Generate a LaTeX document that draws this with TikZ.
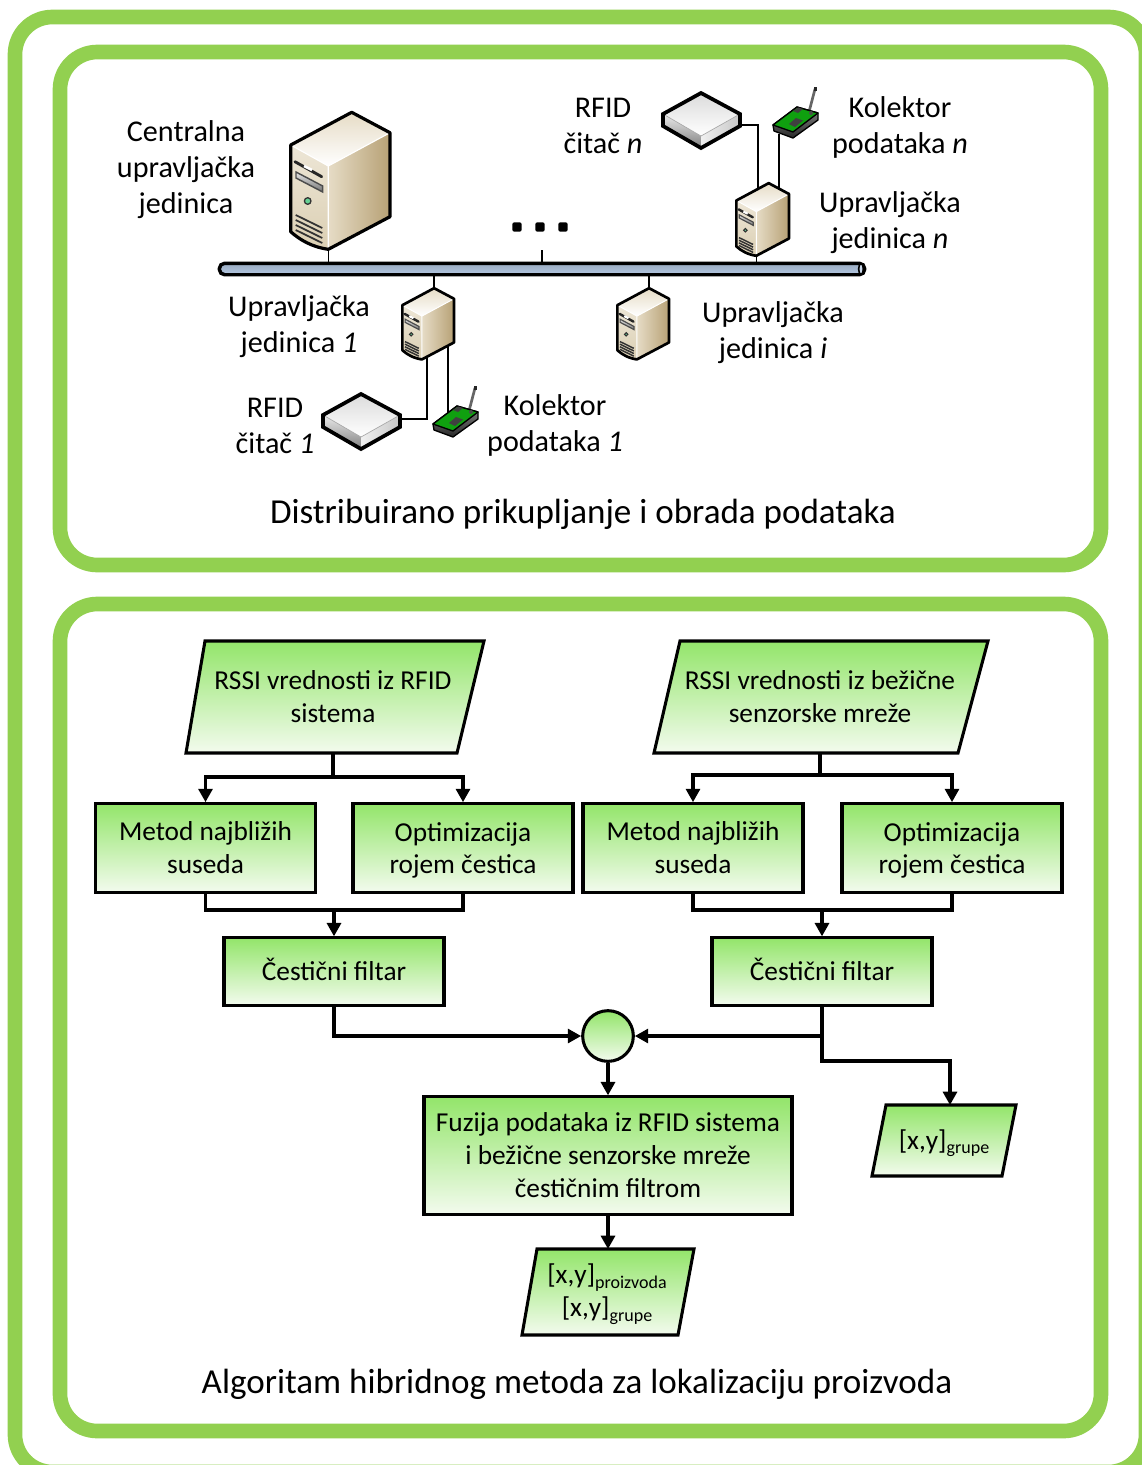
\documentclass[tikz,border=0pt]{standalone}
\usepackage{fontspec}
\setmainfont{Carlito}
\usetikzlibrary{arrows.meta,calc,shapes.geometric}
\definecolor{frameg}{HTML}{92D050}
\definecolor{flowtop}{HTML}{93E56A}
\definecolor{flowbot}{HTML}{F3FBEE}
\definecolor{busblue}{HTML}{B4C8E2}
\definecolor{creamA}{HTML}{F6F2E7}
\definecolor{creamB}{HTML}{DBCFB3}
\definecolor{creamC}{HTML}{E6DCC6}
\definecolor{creamM}{HTML}{EDE6D6}
\definecolor{creamD}{HTML}{B7A175}
\definecolor{boardg}{HTML}{0FA00F}
\newcommand{\flowfont}{\fontsize{20.5}{24.7}\selectfont}
\newcommand{\labfont}{\fontsize{22.6}{27}\selectfont}
\newcommand{\capfont}{\fontsize{26.3}{30}\selectfont}
\newcommand{\subt}[1]{\raisebox{-3.5pt}{\fontsize{13.5}{14}\selectfont #1}}
\tikzset{
 x=0.75pt,y=-0.75pt,
 frameline/.style={draw=frameg,line width=11pt,rounded corners=28pt},
 flowbox/.style={draw=black,line width=2.3pt,top color=flowtop,bottom color=flowbot,inner sep=0pt,align=center,font=\flowfont},
 flowpara/.style={draw=black,line width=2.3pt,line join=miter,top color=flowtop,bottom color=flowbot},
 paratext/.style={inner sep=0pt,align=center,font=\flowfont},
 flowline/.style={draw=black,line width=2.3pt},
 flowarrow/.style={flowline,-{Triangle[length=10pt,width=10.5pt]}},
 netline/.style={draw=black,line width=1.2pt},
 lab/.style={inner sep=0pt,align=center,font=\labfont},
 captext/.style={inner sep=0pt,align=center,font=\capfont},
 netdot/.style={fill=black,rounded corners=1.5pt,minimum size=7pt,inner sep=0pt},
 pics/server/.style={code={
  \path[left color=creamC,middle color=creamM,right color=creamD] (38.3,54)--(100,20.7)--(100,104.7)--(38.3,137.3)--cycle;
  \path[top color=creamM,bottom color=creamB] (0.7,33)--(38.3,54)--(38.3,137.3) .. controls (22,135) and (10,128) .. (0.7,119.7)--cycle;
  \path[top color=creamC,bottom color=white] (0.7,33)--(61.7,0.3)--(100,20.7)--(38.3,54)--cycle;
  \draw[white,line width=#1*0.35] (38.3,54)--(38.3,137.3) (0.7,33)--(38.3,54)--(100,20.7);
  \draw[black!85,line width=#1*0.9,line cap=round] (5,49.7)--(31.7,64.7);
  \draw[white,line width=#1*0.8] (14,54)--(22,58);
  \path[top color=black!10,bottom color=black!55,draw=black!70,line width=#1*0.45] (6,60)--(32.7,74)--(32.7,80)--(6,66)--cycle;
  \draw[black!80,fill=green!40!teal!60,line width=#1*0.4] (17.7,89) circle[radius=3.3];
  \foreach \vy in {0,5,10,15}{\draw[black!80,line width=#1*0.55] (5.7,103+\vy)--(32.3,116+\vy);}
  \draw[black,line width=#1,line join=round] (0.7,33)--(61.7,0.3)--(100,20.7)--(100,104.7)--(38.3,137.3) .. controls (22,135) and (10,128) .. (0.7,119.7)--cycle;
  \coordinate (-b) at (38.3,137.3);
  \coordinate (-ta) at (41.5,11);
  \coordinate (-tb) at (81,10.5);
  \coordinate (-tc) at (61.7,0.3);
  \coordinate (-ba) at (48,132);
  \coordinate (-bb) at (88.5,110.8);
 }},
 pics/reader/.style={code={
  \path[top color=black!8,bottom color=black!50] (0,21)--(38,43)--(38,55)--(0,33)--cycle;
  \path[left color=black!6,right color=black!22] (38,43)--(77,21)--(77,33)--(38,55)--cycle;
  \path[top color=black!14,bottom color=white] (0,21)--(38,0)--(77,21)--(38,43)--cycle;
  \draw[black!35,line width=.5pt] (0,21)--(38,43)--(77,21);
  \draw[black,line width=2.8pt,line join=miter] (0,21)--(38,0)--(77,21)--(77,33)--(38,55)--(0,33)--cycle;
  \coordinate (-r) at (77,25);
  \coordinate (-q) at (77,32);
 }},
 pics/collector/.style={code={
  \draw[black!60,line width=2pt] (36,25)--(42,2);
  \fill[black!85] (40.6,0) rectangle (43.6,4);
  \path[top color=black!45,bottom color=black!85,draw=black,line width=1pt,line join=round] (0,38)--(24,20)--(45,26)--(45,33)--(20,51)--(1,44)--cycle;
  \path[fill=boardg,draw=black,line width=1pt,line join=round] (0,38)--(24,20)--(45,26)--(20,45)--cycle;
  \fill[black!75] (20,24)--(25,20.5)--(30,22)--(25,26)--cycle;
  \fill[black!75] (16,37)--(23,31)--(30,33.5)--(22,40)--cycle;
  \fill[black!70] (38,26) circle[radius=2];
  \coordinate (-t) at (15,27);
  \coordinate (-b) at (6,47);
 }}
}
\begin{document}
\begin{tikzpicture}
\clip (0,0) rectangle (1142,1465);
\fill[white] (0,0) rectangle (1142,1465);
% frames
\draw[frameline] (15,17) rectangle (1146,1472);
\draw[frameline] (60,52) rectangle (1101,565);
\draw[frameline] (60,604) rectangle (1101,1431);
% bus
\node[draw=black,line width=2.6pt,rounded corners=4pt,top color=busblue!85!black,bottom color=busblue,minimum width=484pt,minimum height=8.6pt,inner sep=0pt] (bus) at (542,269) {};
\node[draw=black,line width=1.2pt,fill=busblue!70!white,ellipse,minimum width=3.5pt,minimum height=8.4pt,inner sep=0pt] (busend) at (861,269) {};
% devices
\pic (big) at (290,112) {server=2.4pt};
\pic[scale=0.53] (sn) at (736,183) {server=2pt};
\pic[scale=0.52] (s1) at (402,288) {server=2pt};
\pic[scale=0.52] (si) at (617,288) {server=2pt};
\pic (rn) at (663,93) {reader};
\pic (r1) at (323,394) {reader};
\pic (cn) at (773,87) {collector};
\pic (c1) at (433,386) {collector};
\coordinate (tick) at (542,250);
% network connectors
\draw[netline] (big-b) -- (big-b |- bus.north);
\draw[netline] (tick) -- (tick |- bus.north);
\draw[netline] (sn-b) -- (sn-b |- bus.north);
\draw[netline] (s1-tc) -- (s1-tc |- bus.south);
\draw[netline] (si-tc) -- (si-tc |- bus.south);
\draw[netline] (rn-q) -| (sn-ta);
\draw[netline] (cn-b) -- (cn-b |- sn-tb);
\draw[netline] (r1-r) -| (s1-ba);
\draw[netline] (s1-bb) -- (s1-bb |- c1-t);
% dots
\node[netdot] (d1) at (517,227) {};
\node[netdot] (d2) at (540,227) {};
\node[netdot] (d3) at (563,227) {};
% labels
\node[lab] (l1) at (186,170) {Centralna\\upravljačka\\jedinica};
\node[lab] (l2) at (603,126) {RFID\\čitač \textit{n}};
\node[lab] (l3) at (900,127) {Kolektor\\podataka \textit{n}};
\node[lab] (l4) at (890,222.5) {Upravljačka\\jedinica \textit{n}};
\node[lab] (l5) at (299,326.5) {Upravljačka\\jedinica \textit{1}};
\node[lab] (l6) at (773,332.5) {Upravljačka\\jedinica \textit{i}};
\node[lab] (l7) at (275,426) {RFID\\čitač \textit{1}};
\node[lab] (l8) at (555,425) {Kolektor\\podataka \textit{1}};
\node[captext] (c1t) at (583,514) {Distribuirano prikupljanje i obrada podataka};
\node[captext] (c2t) at (577,1384) {Algoritam hibridnog metoda za lokalizaciju proizvoda};
% parallelograms
\path[flowpara] (205,641)--(484,641)--(457,753)--(186,753)--cycle;
\path[flowpara] (680,641)--(988,641)--(958,753)--(654,753)--cycle;
\path[flowpara] (886,1105)--(1016,1105)--(1002,1176)--(872,1176)--cycle;
\path[flowpara] (537,1249)--(694,1249)--(678,1335)--(522,1335)--cycle;
\node[paratext] (p1) at (333,697) {RSSI vrednosti iz RFID\\sistema};
\node[paratext] (p2) at (820,697) {RSSI vrednosti iz bežične\\senzorske mreže};
\node[paratext] (p3) at (944,1143) {[x,y]\subt{grupe}};
\node[paratext] (p4) at (607,1294) {[x,y]\subt{proizvoda}\\{}[x,y]\subt{grupe}};
\coordinate (p1b) at (333,753);
\coordinate (p2b) at (820,753);
\coordinate (p3t) at (950,1105);
\coordinate (p4t) at (608,1249);
% boxes
\node[flowbox,minimum width=165.5pt,minimum height=66.5pt] (a) at (205.5,848) {Metod najbližih\\suseda};
\node[flowbox,minimum width=165pt,minimum height=66.5pt] (b) at (463,848) {\vphantom{d}Optimizacija\\\smash{rojem čestica}};
\node[flowbox,minimum width=165pt,minimum height=66.5pt] (c) at (693,848) {Metod najbližih\\suseda};
\node[flowbox,minimum width=165pt,minimum height=66.5pt] (d) at (952,848) {\vphantom{d}Optimizacija\\\smash{rojem čestica}};
\node[flowbox,minimum width=165pt,minimum height=50.5pt] (f1) at (334,971.5) {Čestični filtar\vphantom{j}};
\node[flowbox,minimum width=165pt,minimum height=50.5pt] (f2) at (822,971.5) {Čestični filtar\vphantom{j}};
\node[flowbox,circle,minimum size=38pt] (j) at (608,1036) {};
\node[flowbox,minimum width=276pt,minimum height=88pt] (fu) at (608,1155.5) {Fuzija podataka iz RFID sistema\\i bežične senzorske mreže\\čestičnim filtrom};
% flow connectors
\coordinate (j1) at (333,777);
\coordinate (j2) at (820,775);
\coordinate (ab) at (334,910);
\coordinate (cd) at (822,910);
\coordinate (f2m) at (822,1036);
\coordinate (f2k) at (822,1061);
\draw[flowline] (p1b) -- (j1);
\draw[flowarrow] (j1) -| (a.north);
\draw[flowarrow] (j1) -| (b.north);
\draw[flowline] (p2b) -- (j2);
\draw[flowarrow] (j2) -| (c.north);
\draw[flowarrow] (j2) -| (d.north);
\draw[flowline] (a.south) |- (ab) -| (b.south);
\draw[flowline] (c.south) |- (cd) -| (d.south);
\draw[flowarrow] (ab) -- (f1.north);
\draw[flowarrow] (cd) -- (f2.north);
\draw[flowarrow] (f1.south) |- (j.west);
\draw[flowarrow] (f2.south) -- (f2m) -- (j.east);
\draw[flowarrow] (f2m) -- (f2k) -| (p3t);
\draw[flowarrow] (j.south) -- (fu.north);
\draw[flowarrow] (fu.south) -- (p4t);
\end{tikzpicture}
\end{document}
